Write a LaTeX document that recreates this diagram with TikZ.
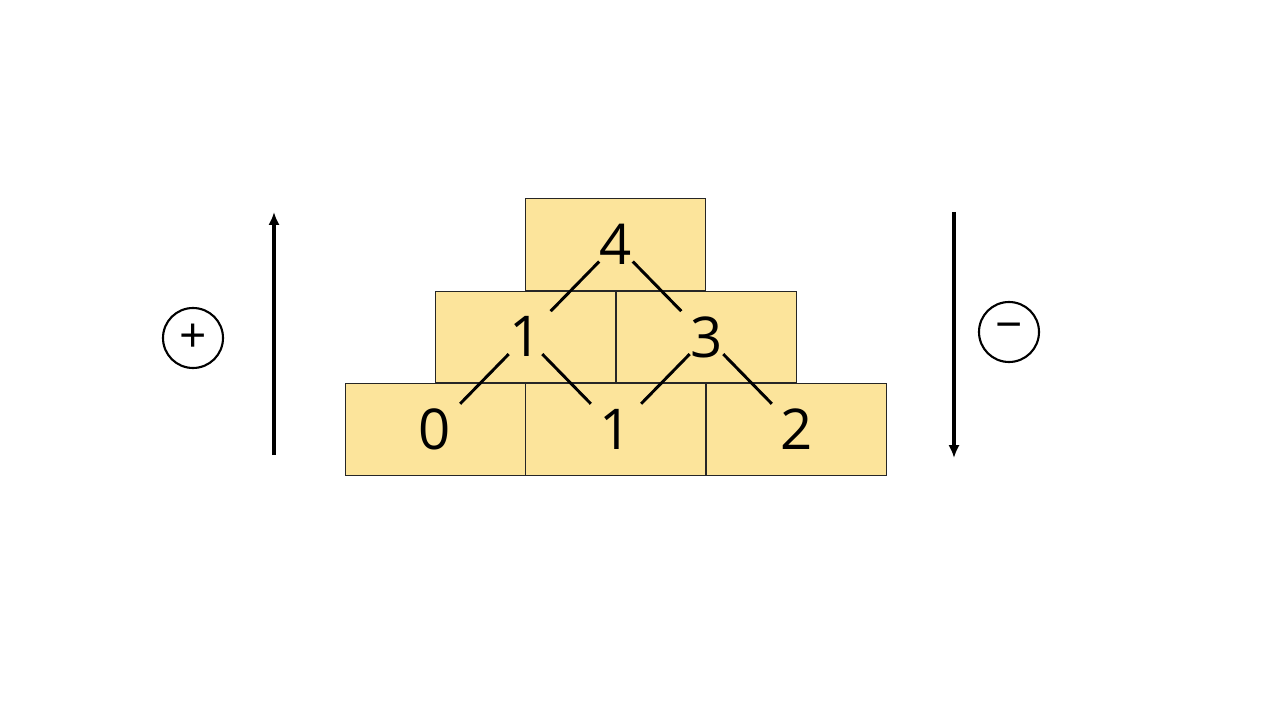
\documentclass[tikz,border=0pt]{standalone}
\usepackage{fontspec}
\setsansfont{Open Sans}
\usetikzlibrary{arrows.meta,positioning}
\definecolor{brickfill}{HTML}{FCE49B}

\begin{document}
\begin{tikzpicture}[
    font=\sffamily,
    brick/.style={
        draw=black!85,
        fill=brickfill,
        minimum width=4.5cm,
        minimum height=2.29cm,
        inner sep=0pt,
        line width=0.7pt,
        font=\sffamily\fontsize{40}{40}\selectfont
    },
    sign/.style={
        draw,
        circle,
        minimum size=1.5cm,
        inner sep=0pt,
        line width=1.5pt,
        font=\sffamily\fontsize{34}{34}\selectfont
    },
    link/.style={
        line width=2.1pt,
        shorten <=0.6cm,
        shorten >=0.9cm
    },
    arrow/.style={
        -{Latex[length=3.2mm,width=2.8mm]},
        line width=2.3pt
    }
]
\useasboundingbox (0,0) rectangle (32,18);

% bottom row
\node[brick] (b1) at (10.875,7.2625) {0};
\node[brick, right=0pt of b1] (b2) {1};
\node[brick, right=0pt of b2] (b3) {2};

% middle row
\node[brick, anchor=south] (m1) at (b1.north east) {1};
\node[brick, anchor=south] (m2) at (b2.north east) {3};

% top
\node[brick, anchor=south] (t1) at (m1.north east) {4};

\draw[link] (t1.center) -- (m1.center);
\draw[link] (t1.center) -- (m2.center);
\draw[link] (m1.center) -- (b1.center);
\draw[link] (m1.center) -- (b2.center);
\draw[link] (m2.center) -- (b2.center);
\draw[link] (m2.center) -- (b3.center);

% sides
\coordinate (upfoot) at (6.85,6.625);
\coordinate (uptip) at (6.85,12.7);
\coordinate (downtop) at (23.85,12.7);
\coordinate (downtip) at (23.85,6.55);
\draw[arrow] (upfoot) -- (uptip);
\draw[arrow] (downtop) -- (downtip);

\node[sign] (plus) at (4.825,9.55) {+};
\node[sign] (minus) at (25.225,9.7) {−};

\end{tikzpicture}
\end{document}
